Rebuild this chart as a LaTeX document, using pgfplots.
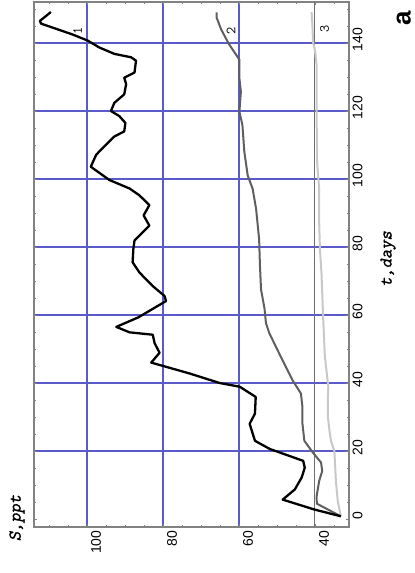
\documentclass[border=0pt]{standalone}
\usepackage{fontspec}
\setmainfont{Liberation Sans}
\newfontfamily\courb{Latin Modern Mono}[FakeBold=1.6, FakeSlant=0.2]
\usepackage{pgfplots}
\pgfplotsset{compat=1.18}
\definecolor{gridblue}{RGB}{90,90,200}
\definecolor{framegray}{RGB}{130,130,130}
\definecolor{ctwo}{RGB}{95,95,95}
\definecolor{cthree}{RGB}{200,200,200}
\definecolor{linegray}{RGB}{110,110,110}
\begin{document}
\begin{tikzpicture}
\path[use as bounding box] (0bp,0bp) rectangle (415bp,573bp);
\begin{axis}[
  at={(34bp,46bp)}, anchor=south west,
  scale only axis, width=315bp, height=525bp,
  x dir=reverse,
  xmin=31.052, xmax=113.947, ymin=-2.353, ymax=152.059,
  xtick={60,80,100}, ytick={20,40,...,140},
  extra x ticks={40}, extra y ticks={0},
  extra tick style={grid=none},
  minor xtick={35,40,...,110}, minor ytick={0,5,...,150},
  xmajorgrids, ymajorgrids,
  major grid style={draw=gridblue, line width=1.1bp, solid},
  axis line style={framegray, line width=1.3bp},
  tick style={framegray, line width=0.8bp},
  major tick length=3bp, minor tick length=2bp,
  tick align=inside,
  xtick pos=both, ytick pos=both,
  yticklabel pos=right,
  /pgf/number format/assume math mode=true,
  xticklabel style={rotate=90, anchor=east, yshift=-9bp, font=\fontsize{14}{16}\selectfont},
  yticklabel style={rotate=90, anchor=north, xshift=3.5bp, font=\fontsize{14}{16}\selectfont},
  clip=false,
]
\addplot[linegray, line width=1bp] coordinates {(40,-2.353) (40,152.059)};
\addplot[cthree, line width=2bp, line join=round] coordinates {
(33.2,0.8) (34,5.2) (34.5,11.2) (34.9,20) (35.8,23) (36.2,26) (36.6,30) (36.6,35.9) (36.5,38.9)
(37.4,47.8) (37.8,57.7) (38.3,72.5) (38.7,79.4) (38.9,87.3) (38.9,97.2) (39.4,104)
(39.6,119.8) (39.6,133.8) (40.0,137.8) (40.5,140.2) (40.7,145.7) (40.9,149.1)};
\addplot[ctwo, line width=2bp, line join=round] coordinates {
(33.2,0.8) (39.5,4.5) (39.6,6.5) (38.9,11.2) (38.1,14.1) (38.4,16.6) (40.6,19.6) (42.8,23)
(43.3,28) (43.3,32.9) (43.7,36.9) (45.9,40.8) (48.1,45.7) (50.3,50.7) (52,54.6)
(52.9,57.6) (53.3,62) (54.2,67.5) (54.5,75) (54.7,82.3) (55.5,91.2) (56.4,97.1)
(57.7,101) (58.6,108) (59.1,115.9) (59.9,119.8) (59.5,125.7) (59.9,129.7) (59.9,135.1)
(62.6,139.6) (64.7,144) (65.9,147.5) (65.9,149)};
\addplot[black, line width=2.3bp, line join=round] coordinates {
(33.2,0.8) (40.2,2.8) (48.5,5.7) (45.3,8.7) (43.5,12.2) (42.7,15.1) (43.1,17.1) (51.9,20.6)
(55.8,23) (57.2,28) (55.8,31) (55.6,35.9) (59.8,38.9) (65.1,40) (73,42.8) (83.1,46)
(80.9,48.9) (82.2,51.7) (82.7,54.2) (88.8,54.9) (92.3,56.5) (86.5,59.3) (79.2,64.1)
(79.6,65.6) (82.7,68.5) (86.2,72.5) (88,75.5) (87.8,79.4) (87.5,81.9) (83.6,86.3)
(85.1,89.3) (83.6,92.3) (86.2,95.2) (88.8,97.2) (94.1,99.7) (99,103.6) (97.6,107.1)
(95.9,109.1) (92.8,112.5) (90.2,114) (89.9,116.5) (91.5,118.5) (93.7,120) (92.8,122.4)
(90.2,124.9) (89.7,127.9) (90.2,129.8) (87.5,131.3) (87.1,134.8) (88.4,135.8) (92.8,136.8)
(96.8,138.7) (99.8,140.7) (103.8,142.5) (108.2,144.2) (112.1,145.7) (112.4,146.5) (109.5,149.1)};
\node[rotate=90, inner sep=0pt, font=\ttfamily\fontsize{14}{16}\selectfont] at (axis cs:102.5,143.6) {1};
\node[rotate=90, inner sep=0pt, font=\ttfamily\fontsize{14}{16}\selectfont] at (axis cs:62.1,143.5) {2};
\node[rotate=90, inner sep=0pt, font=\ttfamily\fontsize{14}{16}\selectfont] at (axis cs:37.5,144) {3};
\node[rotate=90, inner sep=0pt, font=\courb\fontsize{18}{20}\selectfont] at (rel axis cs:1.124,0.5105) {t,days};
\node[rotate=90, inner sep=0pt, font=\courb\fontsize{18}{20}\selectfont] at (rel axis cs:-0.054,0.017) {S,ppt};
\node[rotate=90, inner sep=0pt, font=\bfseries\fontsize{26}{28}\selectfont] at (rel axis cs:1.174,0.968) {a};
\end{axis}
\end{tikzpicture}
\end{document}
